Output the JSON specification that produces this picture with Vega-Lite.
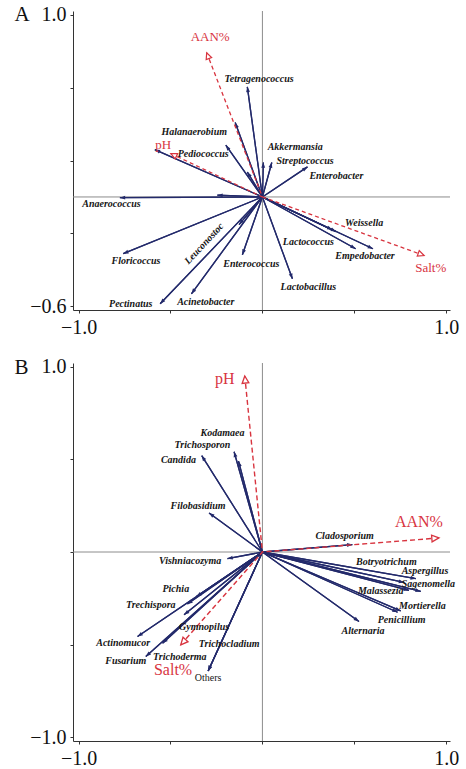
{
  "$schema": "https://vega.github.io/schema/vega-lite/v6.json",
  "padding": {"left": 14, "top": 3, "right": 2, "bottom": 2},
  "spacing": 19,
  "config": {
    "view": {"stroke": null},
    "axis": {"grid": false, "domainColor": "#333333", "tickColor": "#333333", "tickSize": 3, "labelFont": "Liberation Serif", "labelFontSize": 20, "labelColor": "#111111", "labelFlush": false, "labelOverlap": false, "labelPadding": 4}
  },
  "datasets": {
    "spA": [
      {"name": "Tetragenococcus", "x": -0.082, "y": 0.604, "lx": -0.018, "ly": 0.645},
      {"name": "Halanaerobium", "x": -0.199, "y": 0.284, "lx": -0.371, "ly": 0.355},
      {"name": "Pediococcus", "x": -0.585, "y": 0.26, "lx": -0.322, "ly": 0.233},
      {"name": "Akkermansia", "x": 0.005, "y": 0.189, "lx": 0.178, "ly": 0.275},
      {"name": "Streptococcus", "x": 0.051, "y": 0.189, "lx": 0.232, "ly": 0.198},
      {"name": "Enterobacter", "x": 0.245, "y": 0.165, "lx": 0.402, "ly": 0.114},
      {"name": "Anaerococcus", "x": -0.775, "y": -0.004, "lx": -0.821, "ly": -0.037},
      {"name": "Floricoccus", "x": -0.757, "y": -0.311, "lx": -0.688, "ly": -0.353},
      {"name": "Leuconostoc", "x": -0.127, "y": -0.152, "lx": -0.317, "ly": -0.256},
      {"name": "Pectinatus", "x": -0.556, "y": -0.586, "lx": -0.716, "ly": -0.586},
      {"name": "Acinetobacter", "x": -0.386, "y": -0.531, "lx": -0.308, "ly": -0.577},
      {"name": "Enterococcus", "x": -0.109, "y": -0.317, "lx": -0.06, "ly": -0.366},
      {"name": "Lactobacillus", "x": 0.163, "y": -0.449, "lx": 0.25, "ly": -0.495},
      {"name": "Weissella", "x": 0.40, "y": -0.19, "lx": 0.553, "ly": -0.141},
      {"name": "Lactococcus", "x": 0.38, "y": -0.18, "lx": 0.25, "ly": -0.249},
      {"name": "Empedobacter", "x": 0.601, "y": -0.284, "lx": 0.558, "ly": -0.322},
      {"name": null, "x": 0.507, "y": -0.284},
      {"name": null, "x": -0.148, "y": 0.408},
      {"name": null, "x": -0.245, "y": 0.01},
      {"name": null, "x": -0.082, "y": 0.137}
    ],
    "envA": [
      {"name": "AAN%", "x": -0.303, "y": 0.791, "lx": -0.284, "ly": 0.875},
      {"name": "pH", "x": -0.498, "y": 0.238, "lx": -0.54, "ly": 0.285},
      {"name": "Salt%", "x": 0.879, "y": -0.321, "lx": 0.915, "ly": -0.39}
    ],
    "spB": [
      {"name": "Kodamaea", "x": -0.13, "y": 0.49, "lx": -0.217, "ly": 0.643},
      {"name": "Trichosporon", "x": -0.154, "y": 0.541, "lx": -0.326, "ly": 0.577},
      {"name": "Candida", "x": -0.33, "y": 0.52, "lx": -0.457, "ly": 0.499},
      {"name": "Filobasidium", "x": -0.29, "y": 0.21, "lx": -0.35, "ly": 0.247},
      {"name": "Cladosporium", "x": 0.489, "y": 0.04, "lx": 0.447, "ly": 0.088},
      {"name": "Vishniacozyma", "x": -0.19, "y": -0.036, "lx": -0.393, "ly": -0.047},
      {"name": "Botryotrichum", "x": 0.77, "y": -0.164, "lx": 0.674, "ly": -0.052},
      {"name": "Aspergillus", "x": 0.834, "y": -0.144, "lx": 0.884, "ly": -0.101},
      {"name": "Sagenomella", "x": 0.861, "y": -0.213, "lx": 0.902, "ly": -0.173},
      {"name": "Malassezia", "x": 0.797, "y": -0.207, "lx": 0.643, "ly": -0.213},
      {"name": "Mortierella", "x": 0.752, "y": -0.318, "lx": 0.87, "ly": -0.29},
      {"name": "Penicillium", "x": 0.735, "y": -0.325, "lx": 0.757, "ly": -0.366},
      {"name": "Alternaria", "x": 0.525, "y": -0.375, "lx": 0.547, "ly": -0.429},
      {"name": "Pichia", "x": -0.359, "y": -0.24, "lx": -0.471, "ly": -0.2},
      {"name": "Trechispora", "x": -0.408, "y": -0.281, "lx": -0.607, "ly": -0.288},
      {"name": "Gymnopilus", "x": -0.426, "y": -0.339, "lx": -0.317, "ly": -0.407},
      {"name": "Actinomucor", "x": -0.679, "y": -0.456, "lx": -0.757, "ly": -0.492},
      {"name": "Trichoderma", "x": -0.543, "y": -0.492, "lx": -0.449, "ly": -0.564},
      {"name": "Fusarium", "x": -0.634, "y": -0.564, "lx": -0.743, "ly": -0.587},
      {"name": "Trichocladium", "x": -0.295, "y": -0.642, "lx": -0.181, "ly": -0.495},
      {"name": "Others", "x": -0.295, "y": -0.642, "lx": -0.295, "ly": -0.681}
    ],
    "envB": [
      {"name": "pH", "x": -0.096, "y": 0.95, "lx": -0.205, "ly": 0.932},
      {"name": "AAN%", "x": 0.96, "y": 0.076, "lx": 0.851, "ly": 0.162},
      {"name": "Salt%", "x": -0.444, "y": -0.501, "lx": -0.486, "ly": -0.636}
    ]
  },
  "vconcat": [
    {
      "width": 377,
      "height": 299,
      "layer": [
        {
          "data": {"name": "spA"},
          "mark": {"type": "rule", "color": "#232a6b", "strokeWidth": 1.3},
          "encoding": {
            "x": {"field": "x", "type": "quantitative", "scale": {"domain": [-1.03, 1.02], "nice": false, "zero": false},
              "axis": {"title": null, "values": [-1, -0.5, 0, 0.5, 1], "labelExpr": "datum.value == -1 ? '−1.0' : (datum.value == 1 ? '1.0' : '')"}},
            "y": {"field": "y", "type": "quantitative", "scale": {"domain": [-0.62, 1.02], "nice": false, "zero": false},
              "axis": {"title": "A", "titleAngle": 0, "titleX": -59, "titleY": 3, "titleAlign": "left", "titleBaseline": "middle", "titleFont": "Liberation Serif", "titleFontSize": 21, "titleFontWeight": "normal", "titleColor": "#111111",
                "values": [-0.6, -0.4, -0.2, 0, 0.2, 0.4, 0.6, 0.8, 1], "labelExpr": "datum.value == 1 ? '1.0' : (datum.value < -0.55 ? '−0.6' : '')"}},
            "x2": {"datum": 0},
            "y2": {"datum": 0}
          }
        },
        {
          "data": {"values": [{}]},
          "mark": {"type": "rule", "color": "#8c8c8c", "strokeWidth": 1},
          "encoding": {"y": {"datum": 0, "type": "quantitative"}}
        },
        {
          "data": {"values": [{}]},
          "mark": {"type": "rule", "color": "#8c8c8c", "strokeWidth": 1},
          "encoding": {"x": {"datum": 0, "type": "quantitative"}}
        },
        {
          "data": {"name": "spA"},
          "mark": {"type": "rule", "color": "#232a6b", "strokeWidth": 1.3},
          "encoding": {
            "x": {"field": "x", "type": "quantitative"},
            "y": {"field": "y", "type": "quantitative"},
            "x2": {"datum": 0},
            "y2": {"datum": 0}
          }
        },
        {
          "data": {"name": "spA"},
          "mark": {"type": "point", "shape": "M0,0L-0.55,1.5L0.55,1.5Z", "filled": true, "color": "#232a6b", "opacity": 1, "size": 50, "angle": {"expr": "atan2(datum.x, datum.y) * 180 / PI"}},
          "encoding": {
            "x": {"field": "x", "type": "quantitative"},
            "y": {"field": "y", "type": "quantitative"}
          }
        },
        {
          "data": {"name": "envA"},
          "mark": {"type": "rule", "color": "#d8343f", "strokeWidth": 1.3, "strokeDash": [4, 3]},
          "encoding": {
            "x": {"field": "x", "type": "quantitative"},
            "y": {"field": "y", "type": "quantitative"},
            "x2": {"datum": 0},
            "y2": {"datum": 0}
          }
        },
        {
          "data": {"name": "envA"},
          "mark": {"type": "point", "shape": "M0,0L-0.75,1.6L0.75,1.6Z", "filled": true, "fill": "white", "stroke": "#d8343f", "strokeWidth": 1.2, "opacity": 1, "size": 60, "angle": {"expr": "atan2(datum.x, datum.y) * 180 / PI"}},
          "encoding": {
            "x": {"field": "x", "type": "quantitative"},
            "y": {"field": "y", "type": "quantitative"}
          }
        },
        {
          "data": {"name": "spA"},
          "transform": [{"filter": "isValid(datum.name) && datum.name != 'Leuconostoc'"}],
          "mark": {"type": "text", "font": "Liberation Serif", "fontStyle": "italic", "fontWeight": "bold", "fontSize": 10, "color": "#151515", "align": "center", "baseline": "middle"},
          "encoding": {
            "x": {"field": "lx", "type": "quantitative"},
            "y": {"field": "ly", "type": "quantitative"},
            "text": {"field": "name"}
          }
        },
        {
          "data": {"name": "spA"},
          "transform": [{"filter": "datum.name == 'Leuconostoc'"}],
          "mark": {"type": "text", "font": "Liberation Serif", "fontStyle": "italic", "fontWeight": "bold", "fontSize": 10, "color": "#151515", "align": "center", "baseline": "middle", "angle": -47},
          "encoding": {
            "x": {"field": "lx", "type": "quantitative"},
            "y": {"field": "ly", "type": "quantitative"},
            "text": {"field": "name"}
          }
        },
        {
          "data": {"name": "envA"},
          "mark": {"type": "text", "font": "Liberation Serif", "fontSize": 13, "color": "#d8343f", "align": "center", "baseline": "middle"},
          "encoding": {
            "x": {"field": "lx", "type": "quantitative"},
            "y": {"field": "ly", "type": "quantitative"},
            "text": {"field": "name"}
          }
        }
      ]
    },
    {
      "width": 377,
      "height": 378,
      "layer": [
        {
          "data": {"name": "spB"},
          "mark": {"type": "rule", "color": "#232a6b", "strokeWidth": 1.3},
          "encoding": {
            "x": {"field": "x", "type": "quantitative", "scale": {"domain": [-1.03, 1.02], "nice": false, "zero": false},
              "axis": {"title": null, "values": [-1, -0.5, 0, 0.5, 1], "labelExpr": "datum.value == -1 ? '−1.0' : (datum.value == 1 ? '1.0' : '')"}},
            "y": {"field": "y", "type": "quantitative", "scale": {"domain": [-1.02, 1.02], "nice": false, "zero": false},
              "axis": {"title": "B", "titleAngle": 0, "titleX": -59, "titleY": 4, "titleAlign": "left", "titleBaseline": "middle", "titleFont": "Liberation Serif", "titleFontSize": 21, "titleFontWeight": "normal", "titleColor": "#111111",
                "values": [-1, -0.5, 0, 0.5, 1], "labelExpr": "datum.value == 1 ? '1.0' : (datum.value == -1 ? '−1.0' : '')"}},
            "x2": {"datum": 0},
            "y2": {"datum": 0}
          }
        },
        {
          "data": {"values": [{}]},
          "mark": {"type": "rule", "color": "#8c8c8c", "strokeWidth": 1},
          "encoding": {"y": {"datum": 0, "type": "quantitative"}}
        },
        {
          "data": {"values": [{}]},
          "mark": {"type": "rule", "color": "#8c8c8c", "strokeWidth": 1},
          "encoding": {"x": {"datum": 0, "type": "quantitative"}}
        },
        {
          "data": {"name": "spB"},
          "mark": {"type": "rule", "color": "#232a6b", "strokeWidth": 1.3},
          "encoding": {
            "x": {"field": "x", "type": "quantitative"},
            "y": {"field": "y", "type": "quantitative"},
            "x2": {"datum": 0},
            "y2": {"datum": 0}
          }
        },
        {
          "data": {"name": "spB"},
          "mark": {"type": "point", "shape": "M0,0L-0.55,1.5L0.55,1.5Z", "filled": true, "color": "#232a6b", "opacity": 1, "size": 50, "angle": {"expr": "atan2(datum.x, datum.y) * 180 / PI"}},
          "encoding": {
            "x": {"field": "x", "type": "quantitative"},
            "y": {"field": "y", "type": "quantitative"}
          }
        },
        {
          "data": {"name": "envB"},
          "mark": {"type": "rule", "color": "#d8343f", "strokeWidth": 1.4, "strokeDash": [5, 3]},
          "encoding": {
            "x": {"field": "x", "type": "quantitative"},
            "y": {"field": "y", "type": "quantitative"},
            "x2": {"datum": 0},
            "y2": {"datum": 0}
          }
        },
        {
          "data": {"name": "envB"},
          "mark": {"type": "point", "shape": "M0,0L-0.75,1.6L0.75,1.6Z", "filled": true, "fill": "white", "stroke": "#d8343f", "strokeWidth": 1.3, "opacity": 1, "size": 80, "angle": {"expr": "atan2(datum.x, datum.y) * 180 / PI"}},
          "encoding": {
            "x": {"field": "x", "type": "quantitative"},
            "y": {"field": "y", "type": "quantitative"}
          }
        },
        {
          "data": {"name": "spB"},
          "transform": [{"filter": "datum.name != 'Others'"}],
          "mark": {"type": "text", "font": "Liberation Serif", "fontStyle": "italic", "fontWeight": "bold", "fontSize": 10, "color": "#151515", "align": "center", "baseline": "middle"},
          "encoding": {
            "x": {"field": "lx", "type": "quantitative"},
            "y": {"field": "ly", "type": "quantitative"},
            "text": {"field": "name"}
          }
        },
        {
          "data": {"name": "spB"},
          "transform": [{"filter": "datum.name == 'Others'"}],
          "mark": {"type": "text", "font": "Liberation Serif", "fontSize": 10, "color": "#151515", "align": "center", "baseline": "middle"},
          "encoding": {
            "x": {"field": "lx", "type": "quantitative"},
            "y": {"field": "ly", "type": "quantitative"},
            "text": {"field": "name"}
          }
        },
        {
          "data": {"name": "envB"},
          "mark": {"type": "text", "font": "Liberation Serif", "fontSize": 16, "color": "#d8343f", "align": "center", "baseline": "middle"},
          "encoding": {
            "x": {"field": "lx", "type": "quantitative"},
            "y": {"field": "ly", "type": "quantitative"},
            "text": {"field": "name"}
          }
        }
      ]
    }
  ]
}
